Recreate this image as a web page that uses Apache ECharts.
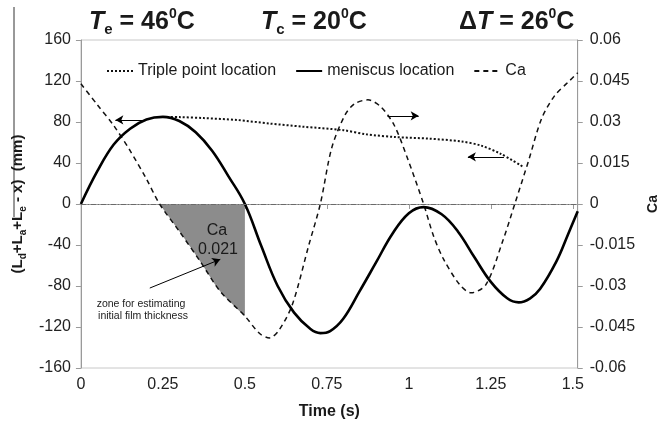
<!DOCTYPE html>
<html>
<head>
<meta charset="utf-8">
<script src="https://cdn.jsdelivr.net/npm/echarts@6/dist/echarts.min.js"></script>
<style>
  html, body { margin: 0; padding: 0; background: #fff; }
  #chart { width: 668px; height: 425px; }
</style>
</head>
<body>
<div id="chart"></div>
<script>
'use strict';
// 数据
var meniscusTime = [0, 0.05, 0.1, 0.15, 0.2, 0.25, 0.3, 0.35, 0.4, 0.45, 0.5, 0.55, 0.6, 0.65, 0.7, 0.73, 0.76, 0.8, 0.85, 0.9, 0.95, 1.0, 1.045, 1.1, 1.15, 1.2, 1.25, 1.3, 1.335, 1.37, 1.4, 1.45, 1.485, 1.515];
var meniscusVal  = [0, 32, 58, 73.5, 82.5, 85, 81, 70, 52, 27, 0, -41, -80, -106, -122, -126, -124, -112, -85, -57, -29, -9, -3, -10, -27, -52, -76, -92, -96, -92, -83, -56, -30, -7];

var caTime = [0, 0.05, 0.1, 0.15, 0.2, 0.24, 0.3, 0.365, 0.425, 0.5, 0.545, 0.575, 0.605, 0.645, 0.695, 0.73, 0.765, 0.805, 0.835, 0.875, 0.915, 0.955, 0.995, 1.045, 1.075, 1.105, 1.155, 1.19, 1.235, 1.285, 1.323, 1.365, 1.405, 1.445, 1.485, 1.515];
var caVal  = [0.044, 0.0363, 0.0287, 0.0195, 0.0091, 0, -0.010, -0.0212, -0.032, -0.041, -0.0474, -0.049, -0.046, -0.0367, -0.015, 0, 0.0206, 0.0325, 0.0367, 0.0381, 0.0355, 0.0289, 0.017, 0, -0.0116, -0.02, -0.0295, -0.0325, -0.0295, -0.014, 0, 0.0158, 0.0313, 0.0397, 0.0445, 0.048];

var tripleTime = [0.25, 0.3, 0.375, 0.475, 0.575, 0.675, 0.8, 0.87, 0.96, 1.06, 1.16, 1.22, 1.28, 1.35];
var tripleVal  = [85, 84.8, 83.8, 82, 78.5, 75.5, 72, 68, 65.3, 63.8, 61, 57, 49, 36];

var legendNames = ['Triple point location', 'meniscus location', 'Ca'];
var xTicks = [0, 0.25, 0.5, 0.75, 1, 1.25, 1.5];
var zoneRange = [0.24, 0.5];   // 灰色三角区
// arrows, in (time, left axis) units
var arrows = [
    [[0.19, 82], [0.105, 82]],
    [[0.935, 86], [1.03, 86]],
    [[1.29, 46], [1.18, 46]],
    [[0.21, -82], [0.425, -54]]
];

function pairs(t, v) {
    var out = [];
    for (var i = 0; i < t.length; i++) out.push([t[i], v[i]]);
    return out;
}

var FONT = "'Liberation Sans', Arial, sans-serif";
var AXIS_COLOR = '#9a9a9a';
var TEXT = '#1a1a1a';

var zoneData = pairs(caTime, caVal).filter(function (p) {
    return p[0] >= zoneRange[0] && p[0] <= zoneRange[1];
});

var arrowData = arrows.map(function (a) {
    return [{ coord: a[0], symbol: 'none' }, { coord: a[1], symbol: 'arrow' }];
});
arrowData.push([{ coord: [0, 0], symbol: 'none' }, { coord: [1.515, 0], symbol: 'none',
    lineStyle: { color: '#6a6a6a', width: 1, type: [5, 2, 1, 2] } }]);

var titleRich = {
    t: { fontSize: 25, fontWeight: 'bold', fontStyle: 'italic', fontFamily: FONT, color: TEXT, lineHeight: 30 },
    n: { fontSize: 25, fontWeight: 'bold', fontFamily: FONT, color: TEXT, lineHeight: 30 },
    s: { fontSize: 15, fontWeight: 'bold', fontFamily: FONT, color: TEXT, verticalAlign: 'bottom', lineHeight: 16 },
    p: { fontSize: 14, fontWeight: 'bold', fontFamily: FONT, color: TEXT, verticalAlign: 'top', lineHeight: 16 }
};

var myChart = echarts.init(document.getElementById('chart'), null, { renderer: 'canvas' });
var option = {
    backgroundColor: '#fff',
    animation: false,
    textStyle: { fontFamily: FONT },
    title: [
        { left: 84, top: 2, text: '{t|T}{s|e}{n| = 46}{p|0}{n|C}', textStyle: { rich: titleRich } },
        { left: 256, top: 2, text: '{t|T}{s|c}{n| = 20}{p|0}{n|C}', textStyle: { rich: titleRich } },
        { left: 454, top: 2, text: '{n|\u0394}{t|T}{n| = 26}{p|0}{n|C}', textStyle: { rich: titleRich } }
    ],
    legend: {
        data: legendNames,
        left: 101,
        top: 58,
        itemWidth: 26,
        itemHeight: 12,
        itemGap: 19,
        itemStyle: { opacity: 0 },
        textStyle: { fontSize: 16, color: TEXT, fontFamily: FONT }
    },
    grid: {
        left: 78, right: 84, top: 40, bottom: 50,
        show: true, borderColor: '#c8c8c8', borderWidth: 1
    },
    xAxis: {
        type: 'value',
        min: 0,
        max: 1.515,
        interval: 0.25,
        name: 'Time (s)',
        nameLocation: 'middle',
        nameGap: 36,
        nameTextStyle: { fontSize: 16, fontWeight: 'bold', color: TEXT },
        axisLine: { lineStyle: { color: AXIS_COLOR } },
        axisTick: { length: 5, lineStyle: { color: AXIS_COLOR } },
        axisLabel: {
            fontSize: 16, color: '#222', margin: 9, showMaxLabel: false,
            formatter: function (v) { return xTicks.indexOf(v) >= 0 ? String(v) : ''; }
        },
        splitLine: { show: false }
    },
    yAxis: [
        {
            type: 'value',
            min: -160, max: 160, interval: 40,
            name: '(L{s|d}+L{s|a}+L{s|e} - x)  (mm)',
            nameLocation: 'middle',
            nameRotate: 90,
            nameGap: 52,
            nameTextStyle: {
                fontSize: 15, fontWeight: 'bold', color: TEXT, lineHeight: 20,
                rich: {
                    s: { fontSize: 10, fontWeight: 'bold', color: TEXT, verticalAlign: 'bottom', lineHeight: 12 }
                }
            },
            axisLine: { show: true, lineStyle: { color: AXIS_COLOR } },
            axisTick: { show: true, length: 5, lineStyle: { color: AXIS_COLOR } },
            axisLabel: { fontSize: 16, color: '#222', margin: 10 },
            splitLine: { show: false }
        },
        {
            type: 'value',
            min: -0.06, max: 0.06, interval: 0.015,
            name: 'Ca',
            nameLocation: 'middle',
            nameRotate: 90,
            nameGap: 66,
            nameTextStyle: { fontSize: 14, fontWeight: 'bold', color: TEXT },
            axisLine: { show: true, lineStyle: { color: AXIS_COLOR } },
            axisTick: { show: true, length: 5, lineStyle: { color: AXIS_COLOR } },
            axisLabel: { fontSize: 16, color: '#222', margin: 12 },
            splitLine: { show: false }
        }
    ],
    series: [
        {
            name: 'zone',
            type: 'line',
            yAxisIndex: 1,
            data: zoneData,
            smooth: 0.3,
            symbol: 'none',
            silent: true,
            lineStyle: { width: 0 },
            areaStyle: { color: '#8c8c8c', opacity: 1 },
            z: 1
        },
        {
            name: 'Triple point location',
            type: 'line',
            yAxisIndex: 0,
            data: pairs(tripleTime, tripleVal),
            smooth: 0.3,
            symbol: 'none',
            lineStyle: { color: '#111', width: 2, type: [2, 2] },
            itemStyle: { color: '#111' },
            z: 3
        },
        {
            name: 'meniscus location',
            type: 'line',
            yAxisIndex: 0,
            data: pairs(meniscusTime, meniscusVal),
            smooth: 0.4,
            symbol: 'none',
            lineStyle: { color: '#000', width: 2.6 },
            itemStyle: { color: '#000' },
            z: 4,
            markLine: {
                silent: true,
                animation: false,
                symbolSize: [7, 8],
                label: { show: false },
                lineStyle: { color: '#000', width: 1, type: 'solid' },
                data: arrowData
            }
        },
        {
            name: 'Ca',
            type: 'line',
            yAxisIndex: 1,
            data: pairs(caTime, caVal),
            smooth: 0.3,
            symbol: 'none',
            lineStyle: { color: '#111', width: 1.5, type: [5, 4] },
            itemStyle: { color: '#111' },
            z: 3
        }
    ],
    graphic: [
        { type: 'line', shape: { x1: 14, y1: 7, x2: 14, y2: 217 }, style: { stroke: '#333', lineWidth: 1 } },
        { type: 'text', x: 217, y: 231, style: { text: 'Ca', fontSize: 16, fill: '#1a1a1a', fontFamily: FONT, align: 'center', verticalAlign: 'middle' }, z: 10 },
        { type: 'text', x: 218, y: 250, style: { text: '0.021', fontSize: 16, fill: '#1a1a1a', fontFamily: FONT, align: 'center', verticalAlign: 'middle' }, z: 10 },
        { type: 'text', x: 141, y: 304, style: { text: 'zone for estimating', fontSize: 10.5, fill: '#222', fontFamily: FONT, align: 'center', verticalAlign: 'middle' }, z: 10 },
        { type: 'text', x: 143, y: 316, style: { text: 'initial film thickness', fontSize: 10.5, fill: '#222', fontFamily: FONT, align: 'center', verticalAlign: 'middle' }, z: 10 }
    ]
};
myChart.setOption(option);
</script>
</body>
</html>
